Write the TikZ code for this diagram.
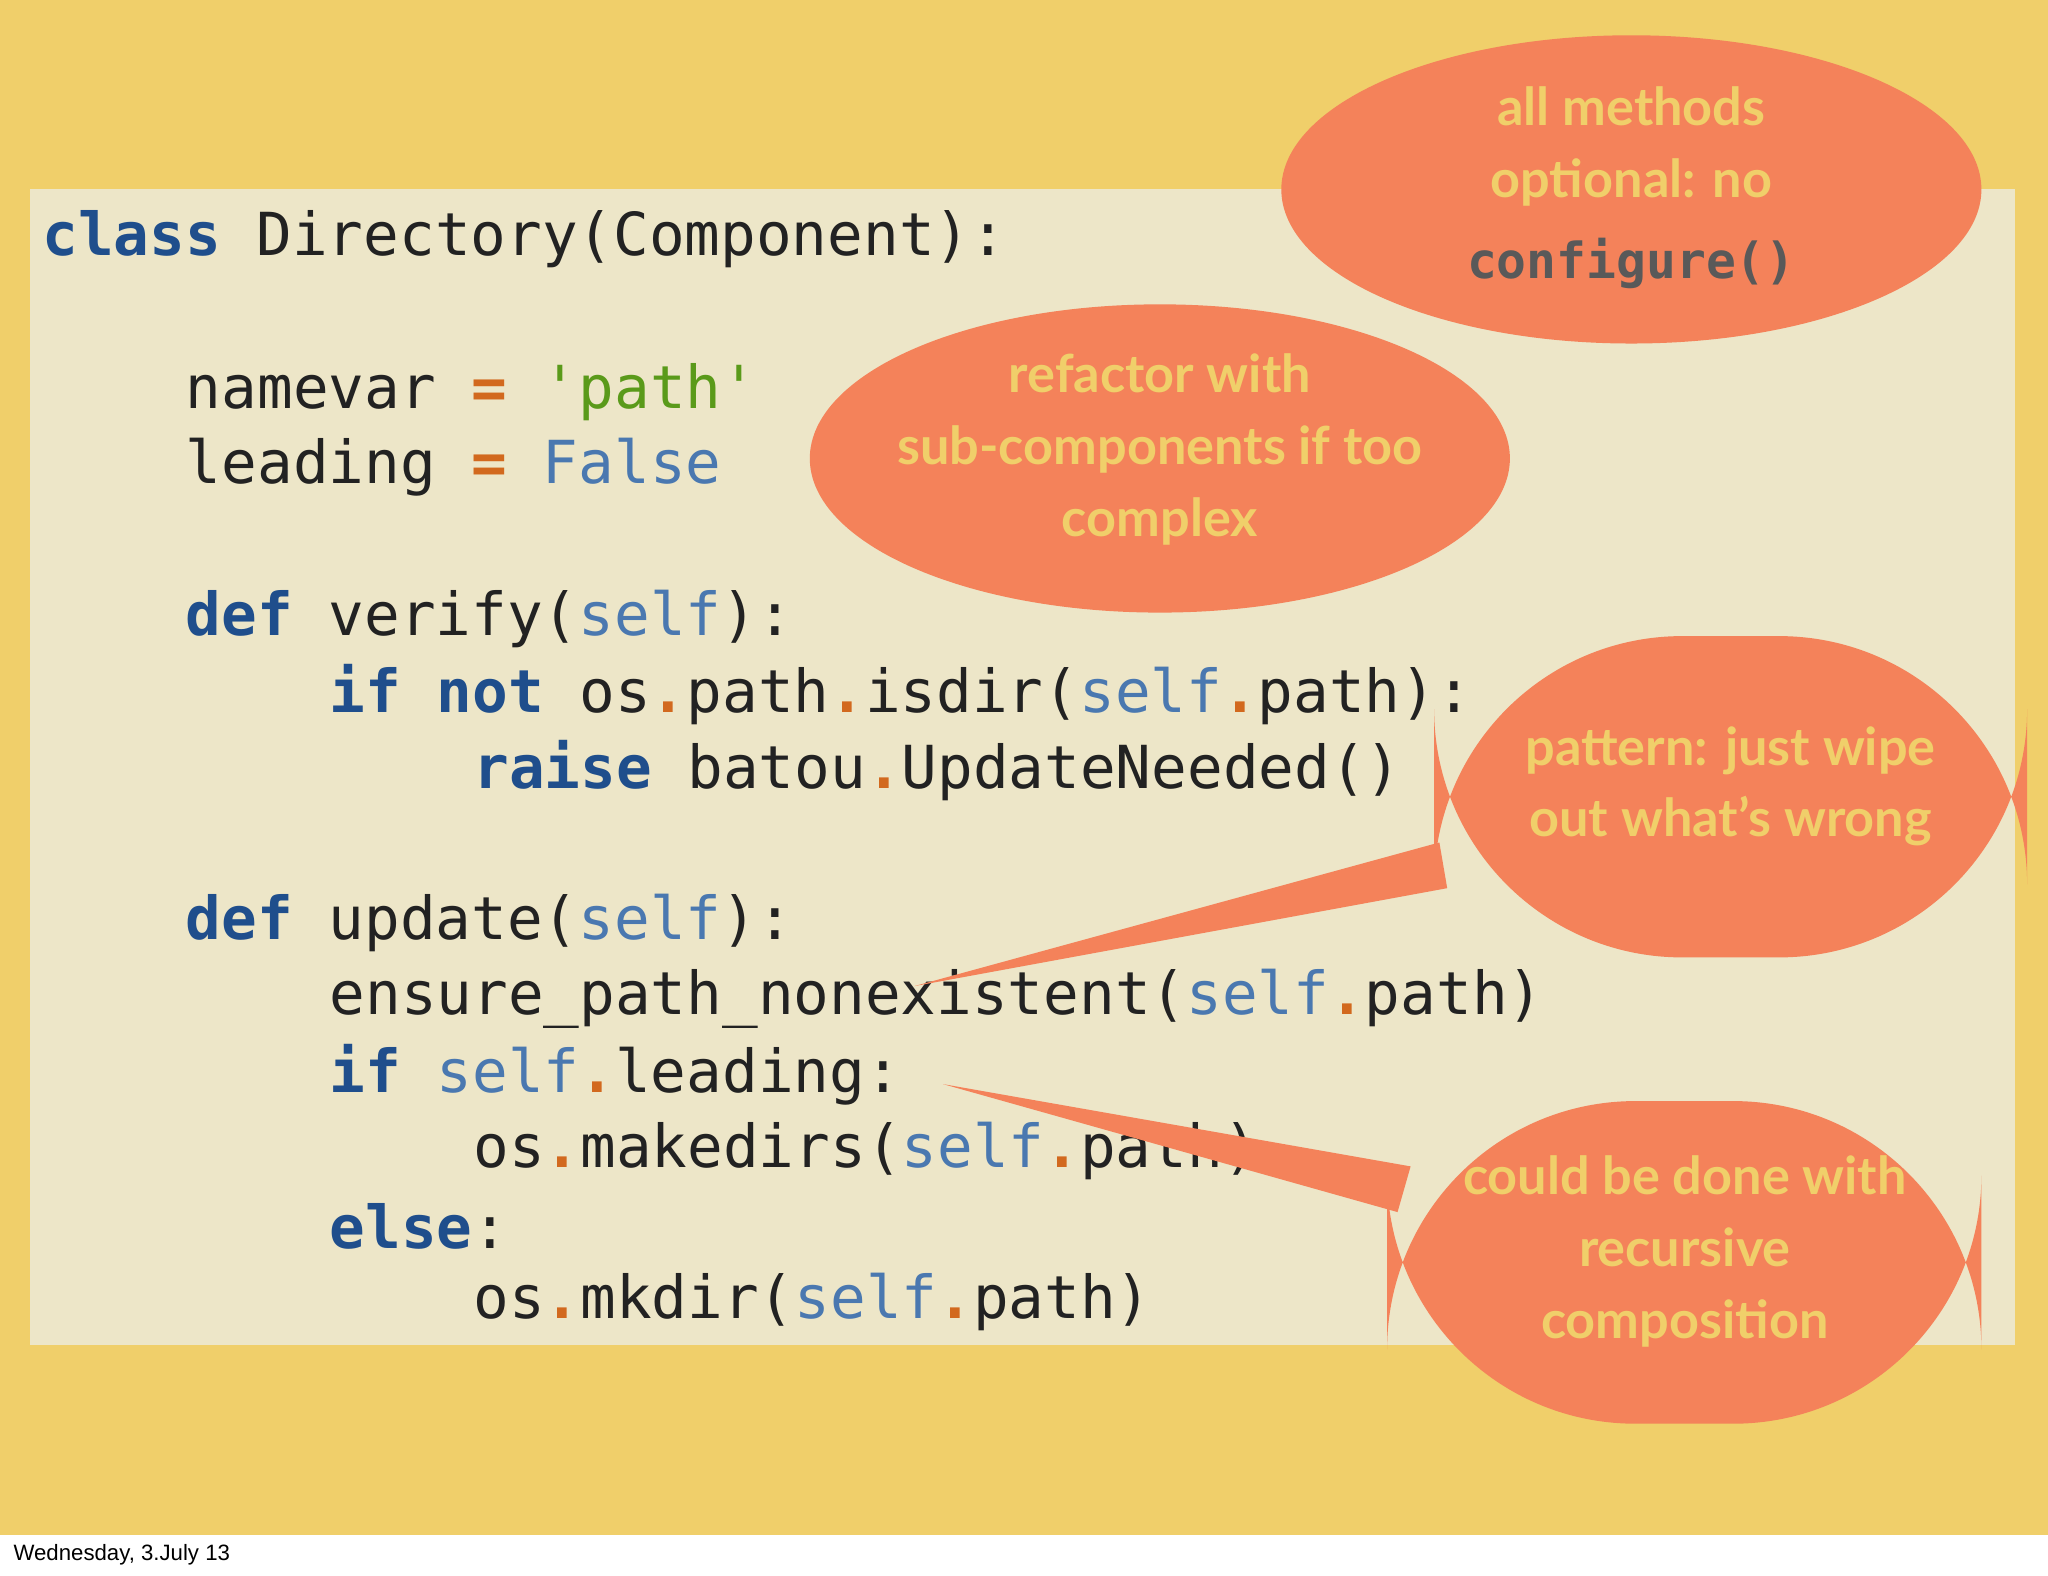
\documentclass[tikz,border=0pt]{standalone}
\usepackage{fontspec}
\setmainfont{Lato}
\setmonofont{DejaVu Sans Mono}
\definecolor{bgy}{HTML}{F0CF6A}
\definecolor{panel}{HTML}{EDE6C8}
\definecolor{callout}{HTML}{F4825A}
\definecolor{kw}{HTML}{1F4E8C}
\definecolor{sf}{HTML}{4A78B0}
\definecolor{op}{HTML}{D2691E}
\definecolor{st}{HTML}{5A9A1A}
\definecolor{cd}{HTML}{222222}
\newcommand{\Kw}[1]{\textbf{\color{kw}#1}}
\newcommand{\Sf}{{\color{sf}self}}
\newcommand{\Dt}{\textbf{\color{op}.}}
\newcommand{\Eq}{\textbf{\color{op}=}}
\begin{document}
\begin{tikzpicture}[x=0.5pt,y=-0.5pt,
  code/.style={anchor=west,inner sep=0,text=cd,font=\ttfamily\fontsize{22.7}{27}\selectfont},
  ctext/.style={text=bgy,font=\bfseries\fontsize{20}{27.5}\selectfont,align=center},
  bub/.style={fill=callout,draw=none}]
\useasboundingbox (0,0) rectangle (1568,1206);
\fill[white] (0,0) rectangle (1568,1206);
\fill[bgy] (0,0) rectangle (1568,1175);
\node[anchor=west,inner sep=0,font=\fontsize{8.5}{10}\selectfont] (date) at (10,1190) {\fontspec{Liberation Sans}Wednesday, 3.July 13};
\fill[panel] (23,145) rectangle (1543,1030);
\node[code] (l1) at (32,183) {\Kw{class} Directory(Component):};
\node[code] (l2) at (142,300) {namevar \Eq{} {\color{st}\char"27 path\char"27}};
\node[code] (l3) at (142,358) {leading \Eq{} {\color{sf}False}};
\node[code] (l4) at (142,474) {\Kw{def} verify(\Sf):};
\node[code] (l5) at (252,532) {\Kw{if} \Kw{not} os\Dt path\Dt isdir(\Sf\Dt path):};
\node[code] (l6) at (362,590) {\Kw{raise} batou\Dt UpdateNeeded()};
\node[code] (l7) at (142,707) {\Kw{def} update(\Sf):};
\node[code] (l8) at (252,765) {ensure\_path\_nonexistent(\Sf\Dt path)};
\node[code] (l9) at (252,823) {\Kw{if} \Sf\Dt leading:};
\node[code] (l10) at (362,881) {os\Dt makedirs(\Sf\Dt path)};
\node[code] (l11) at (252,939) {\Kw{else}:};
\node[code] (l12) at (362,997) {os\Dt mkdir(\Sf\Dt path)};
% callout 1
\fill[bub] (1249,145) ellipse [x radius=268,y radius=118];
\node[ctext] (c1) at (1249,112) {all methods\\optional: no};
\node[font=\ttfamily\bfseries\fontsize{19}{22}\selectfont,text=black!65] (c1b) at (1249,202) {configure()};
% callout 2
\fill[bub] (888,351) ellipse [x radius=268,y radius=118];
\node[ctext] (c2) at (888,344) {refactor with\\sub-components if too\\complex};
% callout 3
\coordinate (t3) at (700,755);
\fill[bub] (1102,645) -- (t3) -- (1108,680) -- cycle;
\fill[bub,rounded corners=95pt] (1098,487) rectangle (1552,733);
\node[ctext] (c3) at (1325,602) {pattern: just wipe\\out what's wrong};
% callout 4
\coordinate (t4) at (722,830);
\fill[bub] (1080,893) -- (t4) -- (1070,928) -- cycle;
\fill[bub,rounded corners=95pt] (1062,843) rectangle (1517,1090);
\node[ctext] (c4) at (1290,958) {could be done with\\recursive\\composition};
\end{tikzpicture}
\end{document}
